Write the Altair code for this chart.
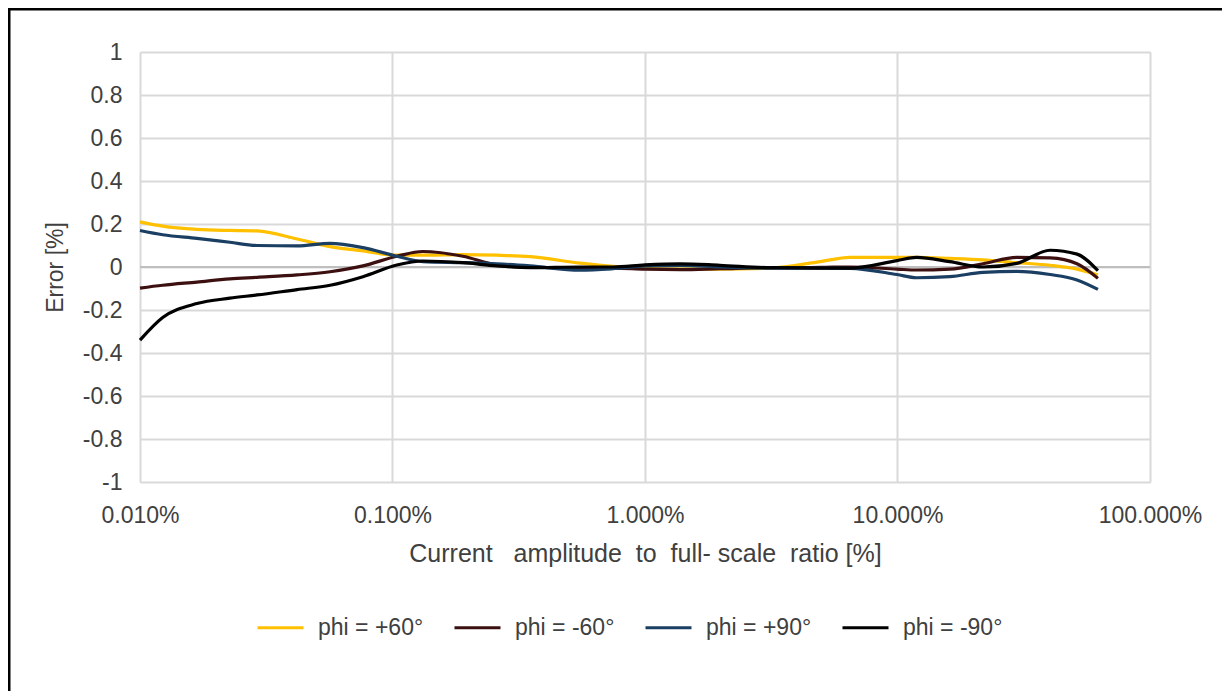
import altair as alt
import pandas as pd

# x: current amplitude to full-scale ratio [%]
x_pct = [0.01, 0.0123, 0.0168, 0.0227, 0.0291, 0.0419, 0.0566, 0.0764, 0.104, 0.132,
         0.19, 0.259, 0.351, 0.553, 0.747, 1.0, 1.38, 1.98, 3.13, 4.93,
         6.48, 9.95, 11.9, 16.1, 21.8, 29.7, 40.2, 51.4, 62.2]

err_p60 = [0.21, 0.19, 0.175, 0.17, 0.168, 0.13, 0.095, 0.075, 0.055, 0.055,
           0.058, 0.055, 0.048, 0.018, 0.003, -0.005, -0.01, -0.01, -0.005, 0.025,
           0.045, 0.045, 0.045, 0.04, 0.033, 0.02, 0.008, -0.01, -0.037]
err_m60 = [-0.098, -0.085, -0.07, -0.055, -0.048, -0.037, -0.022, 0.005, 0.05, 0.072,
           0.05, 0.01, 0.0, -0.005, -0.005, -0.01, -0.012, -0.008, -0.003, -0.002,
           0.0, -0.01, -0.014, -0.01, 0.015, 0.045, 0.042, 0.015, -0.053]
err_p90 = [0.17, 0.15, 0.133, 0.115, 0.1, 0.098, 0.11, 0.09, 0.05, 0.025,
           0.02, 0.015, 0.005, -0.015, -0.008, 0.005, 0.008, 0.0, -0.005, -0.005,
           -0.006, -0.035, -0.05, -0.045, -0.025, -0.02, -0.035, -0.06, -0.104]
err_m90 = [-0.34, -0.235, -0.17, -0.145, -0.13, -0.105, -0.085, -0.045, 0.009, 0.028,
           0.02, 0.005, -0.003, 0.0, 0.0, 0.01, 0.015, 0.008, -0.003, -0.005,
           -0.005, 0.03, 0.045, 0.025, 0.0, 0.017, 0.078, 0.06, -0.017]

series_names = ["phi = +60°", "phi = -60°", "phi = +90°", "phi = -90°"]
series_colors = ["#FFC000", "#3C1010", "#1B3F63", "#000000"]
x_ticks = [0.01, 0.1, 1, 10, 100]
y_ticks = [-1, -0.8, -0.6, -0.4, -0.2, 0, 0.2, 0.4, 0.6, 0.8, 1]
x_title = ("Current\u00a0\u00a0\u00a0amplitude\u00a0\u00a0to\u00a0\u00a0full-\u00a0scale"
           "\u00a0\u00a0ratio\u00a0[%]")

rows = []
for name, vals in zip(series_names, [err_p60, err_m60, err_p90, err_m90]):
    for xv, yv in zip(x_pct, vals):
        rows.append({"x": xv, "err": yv, "series": name})
df = pd.DataFrame(rows)

W, H = 1010, 430
FONT = "Liberation Sans"
TXT = "#404040"
GRID = "#d9d9d9"

xscale = alt.Scale(type="log", domain=[0.01, 100])
yscale = alt.Scale(domain=[-1, 1])

lines = alt.Chart(df).mark_line(strokeWidth=3.2, interpolate="monotone").encode(
    x=alt.X("x:Q", scale=xscale,
            axis=alt.Axis(values=x_ticks, labelExpr="format(datum.value, '.3f') + '%'",
                          title=x_title,
                          grid=True, gridColor=GRID, gridWidth=2, domain=False, ticks=False,
                          labelPadding=22, labelFontSize=23, labelColor=TXT,
                          titleFontSize=25, titleColor=TXT, titleFontWeight="normal",
                          titlePadding=14, labelFlush=False)),
    y=alt.Y("err:Q", scale=yscale,
            axis=alt.Axis(values=y_ticks,
                          labelExpr="replace(format(datum.value, '.1~f'), '\u2212', '-')",
                          title="Error [%]", grid=True, gridColor=GRID, gridWidth=2,
                          domain=False, ticks=False, labelPadding=18, labelFontSize=23,
                          labelColor=TXT, titleFontSize=23, titleColor=TXT,
                          titleFontWeight="normal", titlePadding=15)),
    color=alt.Color("series:N", sort=series_names,
                    scale=alt.Scale(domain=series_names, range=series_colors),
                    legend=alt.Legend(title=None, orient="none", direction="horizontal",
                                      legendX=116, legendY=551, symbolType="stroke",
                                      symbolSize=2116, symbolStrokeWidth=3,
                                      labelFontSize=23, labelColor=TXT, labelOffset=13,
                                      columnPadding=24, padding=0)),
)

zero = alt.Chart(pd.DataFrame({"y": [0]})).mark_rule(color="#bfbfbf", strokeWidth=2).encode(
    y=alt.Y("y:Q", scale=yscale)
)

frame_left = alt.Chart(pd.DataFrame({"a": [0]})).mark_rule(color="black", strokeWidth=3).encode(
    x=alt.value(-131), y=alt.value(-44), y2=alt.value(H + 300)
)
frame_top = alt.Chart(pd.DataFrame({"a": [0]})).mark_rule(color="black", strokeWidth=3).encode(
    y=alt.value(-43), x=alt.value(-132), x2=alt.value(W + 72)
)

chart = alt.layer(zero, lines, frame_left, frame_top).properties(
    width=W, height=H,
    autosize=alt.AutoSizeParams(type="none"),
    padding={"left": 132, "top": 44, "right": 73, "bottom": 209},
).configure_view(stroke=None).configure(font=FONT)

chart.save("out.html", embed_options={"renderer": "svg", "actions": False})
